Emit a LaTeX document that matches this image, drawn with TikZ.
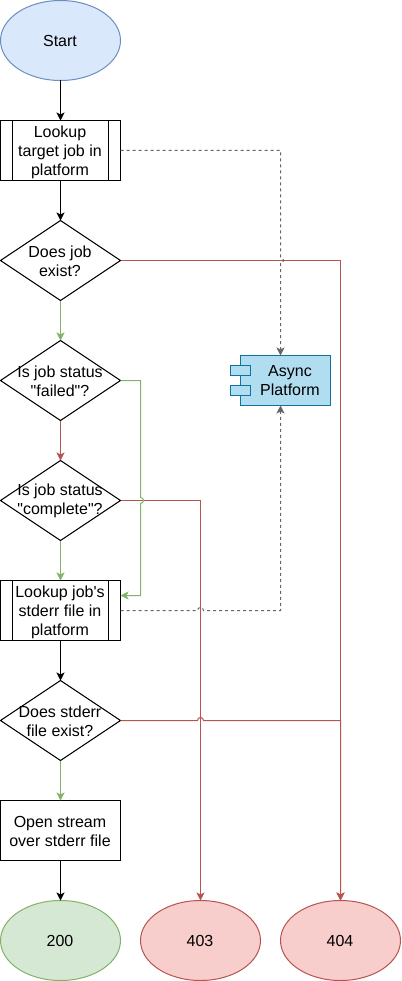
\documentclass[tikz,border=0pt]{standalone}
\usepackage{fontspec}
\newfontfamily\lblfont{Liberation Sans}
\usetikzlibrary{shapes.geometric,arrows.meta,calc}
\definecolor{blueF}{HTML}{DAE8FC}\definecolor{blueS}{HTML}{6C8EBF}
\definecolor{greenF}{HTML}{D5E8D4}\definecolor{greenS}{HTML}{82B366}
\definecolor{redF}{HTML}{F8CECC}\definecolor{redS}{HTML}{B85450}
\definecolor{asyncF}{HTML}{B1DDF0}\definecolor{asyncS}{HTML}{10739E}
\definecolor{dashS}{HTML}{666666}
\tikzset{
  every node/.style={outer sep=0pt,inner sep=0pt},
  lbl/.style={font=\lblfont\fontsize{16}{19}\selectfont,align=center,text=black},
  onetext/.style={label={[lbl,xshift=-0.5pt]center:#1}},
  twotext/.style={label={[lbl,xshift=-0.5pt,yshift=-0.5pt]center:#1}},
  threetext/.style={label={[lbl,xshift=-0.5pt,yshift=-1.5pt]center:#1}},
  oval/.style={shape=ellipse,draw,minimum width=120,minimum height=80},
  boxn/.style={shape=rectangle,draw=black,fill=white,minimum width=120,minimum height=60},
  dec/.style={shape=diamond,draw=black,fill=white,aspect=1.5,minimum width=120,minimum height=80},
  tip/.style={-{Stealth[length=8pt,width=8pt,inset=2pt]}},
  blk/.style={tip,draw=black},
  grn/.style={tip,draw=greenS},
  rd/.style={tip,draw=redS},
  dsh/.style={tip,draw=dashS,dash pattern=on 3pt off 3pt},
  innerline/.style={draw=black},
}
\begin{document}
\begin{tikzpicture}[x=1pt,y=-1pt,line width=1pt]
\useasboundingbox (0,0) rectangle (401,981);
\fill[white] (0,0) rectangle (401,981);
\node[oval,fill=blueF,draw=blueS,onetext={Start}] (start) at (60.5,40.5) {};
\node[boxn,threetext={Lookup\\target job in\\platform}] (look) at (60.5,150.5) {};
\node[dec,twotext={Does job\\exist?}] (exist) at (60.5,260.5) {};
\node[dec,twotext={Is job status\\"failed"?}] (failed) at (60.5,380.5) {};
\node[dec,twotext={Is job status\\"complete"?}] (complete) at (60.5,500.5) {};
\node[boxn,threetext={Lookup job's\\stderr file in\\platform}] (stderr) at (60.5,610.5) {};
\node[dec,twotext={Does stderr\\file exist?}] (sfile) at (60.5,720.5) {};
\node[boxn,twotext={Open stream\\over stderr file}] (open) at (60.5,830.5) {};
\node[oval,fill=greenF,draw=greenS,onetext={200}] (ok) at (60.5,940.5) {};
\node[oval,fill=redF,draw=redS,onetext={403}] (forbid) at (200.5,940.5) {};
\node[oval,fill=redF,draw=redS,onetext={404}] (missing) at (340.5,940.5) {};
\node[shape=rectangle,draw=asyncS,fill=asyncF,minimum width=90,minimum height=50,
  label={[lbl,xshift=4.5pt,yshift=-0.5pt]center:Async\\Platform}] (async) at (285.5,380.5) {};
\node[shape=rectangle,draw=asyncS,fill=asyncF,minimum width=20,minimum height=10] (portA) at (240.5,370.5) {};
\node[shape=rectangle,draw=asyncS,fill=asyncF,minimum width=20,minimum height=10] (portB) at (240.5,390.5) {};
\draw[innerline] ([xshift=12]look.north west) -- ([xshift=12]look.south west);
\draw[innerline] ([xshift=-12]look.north east) -- ([xshift=-12]look.south east);
\draw[innerline] ([xshift=12]stderr.north west) -- ([xshift=12]stderr.south west);
\draw[innerline] ([xshift=-12]stderr.north east) -- ([xshift=-12]stderr.south east);
% straight connectors
\draw[blk] (start) -- (look);
\draw[blk] (look) -- (exist);
\draw[grn] (exist) -- (failed);
\draw[rd] (failed) -- (complete);
\draw[grn] (complete) -- (stderr);
\draw[blk] (stderr) -- (sfile);
\draw[grn] (sfile) -- (open);
\draw[blk] (open) -- (ok);
% routing points
\coordinate (cA) at (340.5,260.5);
\coordinate (cB) at (200.5,500.5);
\coordinate (gA) at (140.5,380.5);
\coordinate (gB) at (140.5,595.5);
\coordinate (gJa) at (140.5,497.5);
\coordinate (gJb) at (140.5,503.5);
\coordinate (gEnd) at (120.5,595.5);
\coordinate (sJa) at (197.5,720.5);
\coordinate (sJb) at (203.5,720.5);
\coordinate (sC) at (340.5,720.5);
\coordinate (dA) at (280.5,150.5);
\coordinate (dJa) at (280.5,257.5);
\coordinate (dJb) at (280.5,263.5);
\coordinate (dEnd) at (280.5,355.5);
\coordinate (eS) at (120.5,610.5);
\coordinate (eJa) at (197.5,610.5);
\coordinate (eJb) at (203.5,610.5);
\coordinate (eC) at (280.5,610.5);
\coordinate (eEnd) at (280.5,405.5);
% routed connectors
\draw[rd] (exist.east) -- (cA) -- (missing.north);
\draw[rd] (complete.east) -- (cB) -- (forbid.north);
\draw[rd] (sfile.east) -- (sJa) .. controls +(0,-4) and +(0,-4) .. (sJb) -- (sC) -- (missing.north);
\draw[grn] (failed.east) -- (gA) -- (gJa) .. controls +(4,0) and +(4,0) .. (gJb) -- (gB) -- (gEnd);
\draw[dsh] (look.east) -- (dA) -- (dJa) .. controls +(4,0) and +(4,0) .. (dJb) -- (dEnd);
\draw[dsh] (eS) -- (eJa) .. controls +(0,-4) and +(0,-4) .. (eJb) -- (eC) -- (eEnd);
\end{tikzpicture}
\end{document}
